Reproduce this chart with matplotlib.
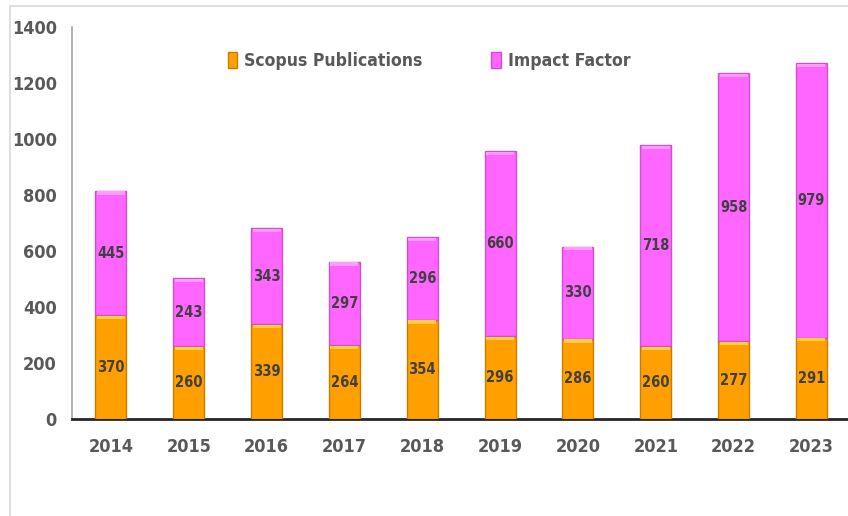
import matplotlib.pyplot as plt
from matplotlib.patches import Rectangle
import numpy as np

# data
years = ['2014', '2015', '2016', '2017', '2018', '2019', '2020', '2021', '2022', '2023']
scopus = [370, 260, 339, 264, 354, 296, 286, 260, 277, 291]
impact = [445, 243, 343, 297, 296, 660, 330, 718, 958, 979]

plt.rcParams['font.family'] = ['DejaVu Sans']
plt.rcParams['font.stretch'] = 'condensed'
txt_color = '#595959'
lab_color = '#404040'

fig = plt.figure(figsize=(8.48, 5.16), dpi=100)
ax = fig.add_axes([72 / 848, 1 - 419 / 516, 1 - 72 / 848, (419 - 27) / 516])

# light border around the chart area
fig.patches.append(Rectangle((10 / 848, -0.02), 1.1, 1 - 6 / 516 + 0.02,
                             transform=fig.transFigure, fill=False,
                             edgecolor='#D9D9D9', linewidth=1.2))

x = np.arange(len(years))
w = 0.4
tops = np.array(scopus) + np.array(impact)
ax.bar(x, scopus, w, color='#FFA000', edgecolor='#C87D00', linewidth=1.0,
       label='Scopus Publications', zorder=3)
ax.bar(x, impact, w, bottom=scopus, color='#FF66FF', edgecolor='#D050D0',
       linewidth=1.0, label='Impact Factor', zorder=3)
# bevel-like highlight on top of each segment
hl = 12
ax.bar(x, hl, w * 0.9, bottom=np.array(scopus) - hl - 2, color='#FFD040',
       linewidth=0, zorder=3.5)
ax.bar(x, hl, w * 0.9, bottom=tops - hl - 2, color='#FF9CFF',
       linewidth=0, zorder=3.5)

for xi, s, i in zip(x, scopus, impact):
    ax.text(xi, s / 2, str(s), ha='center', va='center', fontsize=10.5,
            fontweight='bold', color=lab_color, zorder=4)
    ax.text(xi, s + i / 2, str(i), ha='center', va='center', fontsize=10.5,
            fontweight='bold', color=lab_color, zorder=4)

ax.set_xlim(-0.5, 9.47)
ax.set_ylim(0, 1400)
ax.set_yticks(range(0, 1401, 200))
ax.set_xticks(x)
ax.set_xticklabels(years)
ax.tick_params(axis='both', length=0, labelsize=13, labelcolor=txt_color)
ax.tick_params(axis='x', pad=14)
ax.tick_params(axis='y', pad=11)
for lab in ax.get_xticklabels() + ax.get_yticklabels():
    lab.set_fontweight('bold')

for side in ['top', 'right']:
    ax.spines[side].set_visible(False)
ax.spines['left'].set_color('#A6A6A6')
ax.spines['left'].set_linewidth(1.2)
ax.spines['bottom'].set_color('#262626')
ax.spines['bottom'].set_linewidth(2)

leg = ax.legend(loc='center', bbox_to_anchor=(429 / 848, 1 - 61 / 516),
                bbox_transform=fig.transFigure, ncol=2, frameon=False,
                handlelength=0.55, handleheight=1.0, handletextpad=0.4,
                columnspacing=3.9, prop={'size': 12.6, 'weight': 'bold'})
for t in leg.get_texts():
    t.set_color(txt_color)

fig.savefig('out.png', dpi=100)
